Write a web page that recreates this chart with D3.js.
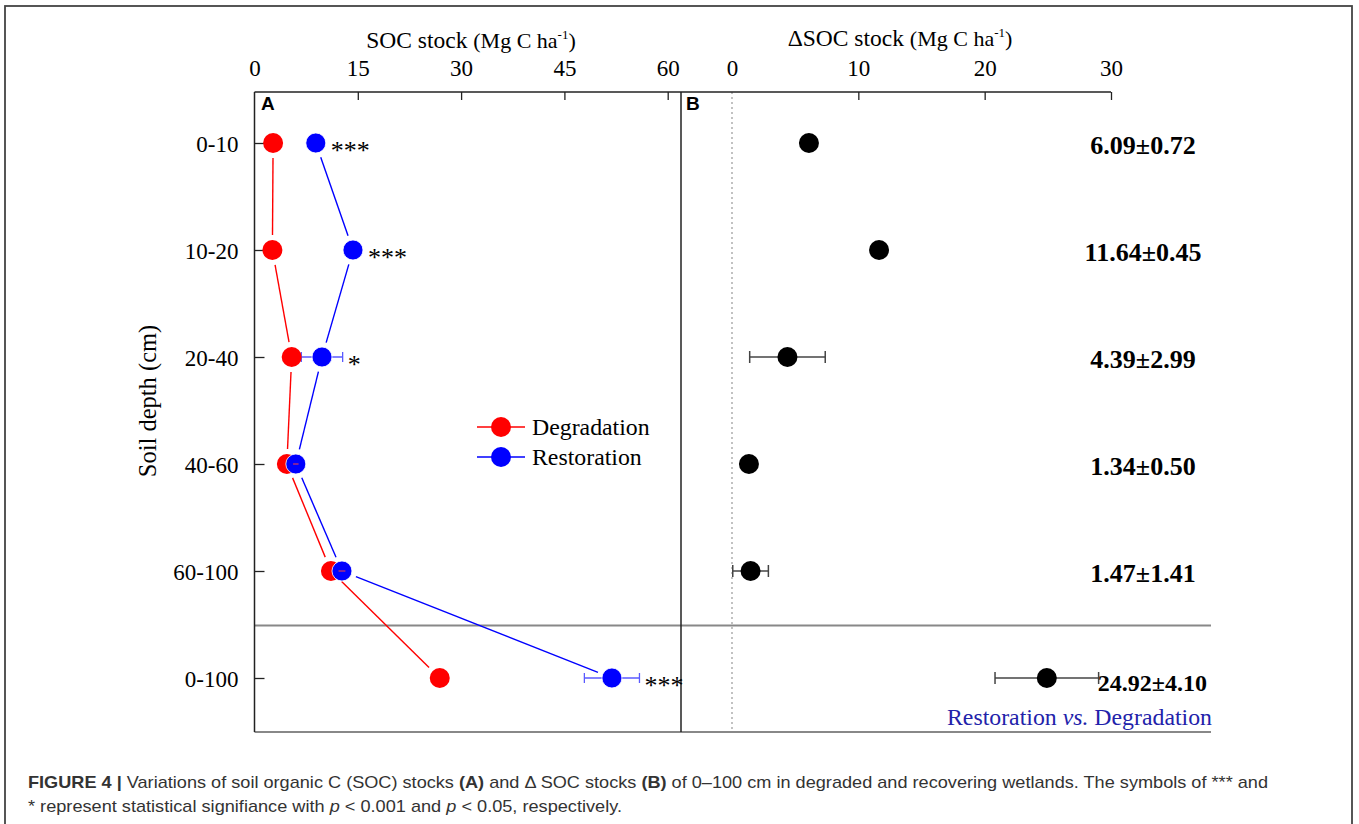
<!DOCTYPE html>
<html><head><meta charset="utf-8">
<script src="https://cdn.jsdelivr.net/npm/d3@7/dist/d3.min.js"></script>
<style>body{margin:0;background:#fff}svg{display:block}</style>
</head><body>
<svg id="c" width="1359" height="824"></svg>
<script>
const depths = ["0-10","10-20","20-40","40-60","60-100","0-100"];
const degradation = [2.7, 2.6, 5.4, 4.7, 11.1, 26.9];
const degradationErr = [0.2, 0.2, 0.4, 0.4, 0.5, 0.3];
const restoration = [8.9, 14.3, 9.8, 6.0, 12.7, 51.9];
const restorationErr = [0.3, 0.3, 3.0, 0.4, 0.5, 4.0];
const significance = ["***","***","*","","","***"];
const deltaSOC = [6.09, 11.64, 4.39, 1.34, 1.47, 24.92];
const deltaErr = [0.72, 0.45, 2.99, 0.50, 1.41, 4.10];
const ticksA = [0,15,30,45,60];
const ticksB = [0,10,20,30];

const svg = d3.select("#c");
const serif = "'Liberation Serif','Times New Roman',serif";
const sans = "'Liberation Sans',Arial,sans-serif";

// geometry
const topY = 92, bottomY = 732, leftA = 254.5, divX = 681, rightB = 1211;
const xA = d3.scaleLinear().domain([0,60]).range([254.5, 667.7]);
const xB = d3.scaleLinear().domain([0,30]).range([732, 1111]);
const y = d3.scalePoint().domain(depths).range([143, 678]);

// outer frame
svg.append("rect").attr("x",5).attr("y",6).attr("width",1347).attr("height",840)
  .attr("fill","none").attr("stroke","#444").attr("stroke-width",1.8);

// dotted zero line panel B
svg.append("line").attr("x1",xB(0)).attr("x2",xB(0)).attr("y1",topY).attr("y2",bottomY)
  .attr("stroke","#999").attr("stroke-width",1.2).attr("stroke-dasharray","2,3");

// separators
const sepY = (y("60-100")+y("0-100"))/2+1;
svg.append("line").attr("x1",leftA).attr("x2",rightB).attr("y1",sepY).attr("y2",sepY)
  .attr("stroke","#888").attr("stroke-width",2);
svg.append("line").attr("x1",leftA).attr("x2",rightB).attr("y1",bottomY).attr("y2",bottomY)
  .attr("stroke","#888").attr("stroke-width",2);
svg.append("line").attr("x1",leftA).attr("x2",leftA).attr("y1",topY).attr("y2",bottomY)
  .attr("stroke","#222").attr("stroke-width",1.5);
svg.append("line").attr("x1",divX).attr("x2",divX).attr("y1",topY).attr("y2",bottomY)
  .attr("stroke","#222").attr("stroke-width",1.5);
svg.append("line").attr("x1",leftA).attr("x2",xB(30)).attr("y1",topY).attr("y2",topY)
  .attr("stroke","#222").attr("stroke-width",1.5);

// axes
function styleAxis(g){
  g.select(".domain").remove();
  g.selectAll(".tick line").attr("stroke","#222").attr("stroke-width",1.3);
  g.selectAll(".tick text").attr("font-family",serif).attr("font-size",23).attr("fill","#000");
}
svg.append("g").attr("transform",`translate(0,${topY})`)
  .call(d3.axisTop(xA).tickValues(ticksA).tickSize(-8).tickPadding(16).tickFormat(d3.format("d")))
  .call(styleAxis)
  .call(g=>g.selectAll(".tick line").filter(d=>d===0).remove());
svg.append("g").attr("transform",`translate(0,${topY})`)
  .call(d3.axisTop(xB).tickValues(ticksB).tickSize(-8).tickPadding(16).tickFormat(d3.format("d")))
  .call(styleAxis)
  .call(g=>g.selectAll(".tick line").filter(d=>d===0).remove());
svg.append("g").attr("transform",`translate(${leftA},0)`)
  .call(d3.axisLeft(y).tickSize(-10).tickPadding(16))
  .call(styleAxis)
  .call(g=>g.selectAll(".tick text").attr("dy","0.35em"));

// axis titles
function title(x, yy, pre){
  const t = svg.append("text").attr("x",x).attr("y",yy).attr("text-anchor","middle")
    .attr("font-family",serif).attr("fill","#000");
  t.append("tspan").attr("font-size",23.5).text(pre+"SOC stock ");
  t.append("tspan").attr("font-size",22).text("(Mg C ha");
  t.append("tspan").attr("font-size",13).attr("dy",-9).text("-1");
  t.append("tspan").attr("font-size",22).attr("dy",9).text(")");
}
title(471, 48, "");
title(900, 46, "\u0394");

svg.append("text").attr("transform","translate(156,401) rotate(-90)").attr("text-anchor","middle")
  .attr("font-family",serif).attr("font-size",24.5).attr("fill","#000").text("Soil depth (cm)");

// panel labels
svg.append("text").attr("x",261).attr("y",110).attr("font-family",sans).attr("font-weight","bold")
  .attr("font-size",19).text("A");
svg.append("text").attr("x",686).attr("y",110).attr("font-family",sans).attr("font-weight","bold")
  .attr("font-size",19).text("B");

// series lines with gaps near markers
function drawSeries(vals, errs, color, errColor){
  const pts = vals.map((v,i)=>[xA(v), y(depths[i])]);
  const gap = 15;
  const g = svg.append("g");
  for(let i=0;i<pts.length-1;i++){
    const [x1,y1]=pts[i],[x2,y2]=pts[i+1];
    const L=Math.hypot(x2-x1,y2-y1); if(L<2*gap) continue;
    const ux=(x2-x1)/L, uy=(y2-y1)/L;
    g.append("line").attr("x1",x1+ux*gap).attr("y1",y1+uy*gap).attr("x2",x2-ux*gap).attr("y2",y2-uy*gap)
      .attr("stroke",color).attr("stroke-width",1.4);
  }
  vals.forEach((v,i)=>{
    const yy=y(depths[i]), a=xA(v-errs[i]), b=xA(v+errs[i]);
    g.append("line").attr("x1",a).attr("x2",b).attr("y1",yy).attr("y2",yy).attr("stroke",errColor).attr("stroke-width",1.3);
    [a,b].forEach(xx=>g.append("line").attr("x1",xx).attr("x2",xx).attr("y1",yy-5).attr("y2",yy+5).attr("stroke",errColor).attr("stroke-width",1.3));
  });
  return g;
}
drawSeries(degradation, degradationErr, "#ff0000", "#ff4040");
drawSeries(restoration, restorationErr, "#0000ff", "#5a5aff");
// markers
svg.append("g").selectAll("circle").data(degradation).join("circle")
  .attr("cx",d=>xA(d)).attr("cy",(d,i)=>y(depths[i])).attr("r",10).attr("fill","#ff0000");
svg.append("g").selectAll("circle").data(restoration).join("circle")
  .attr("cx",d=>xA(d)).attr("cy",(d,i)=>y(depths[i])).attr("r",10).attr("fill","#0000ff")
  .attr("stroke","#fff").attr("stroke-width",0.8);
restoration.forEach((v,i)=>{
  const yy=y(depths[i]);
  if(i===3 || i===4) svg.append("line").attr("x1",xA(v-restorationErr[i])).attr("x2",xA(v+restorationErr[i])).attr("y1",yy).attr("y2",yy).attr("stroke","#ff4040").attr("stroke-width",1);
});

// significance stars
significance.forEach((s,i)=>{
  if(!s) return;
  const x0 = Math.max(xA(restoration[i])+15, xA(restoration[i]+restorationErr[i])+5);
  svg.append("text").attr("x",x0).attr("y",y(depths[i])+16).attr("font-family",serif)
    .attr("font-size",26).attr("fill","#000").text(s);
});

// legend
const legend = [["Degradation","#ff0000"],["Restoration","#0000ff"]];
legend.forEach(([name,col],i)=>{
  const ly = 427 + i*30;
  svg.append("line").attr("x1",477).attr("x2",525).attr("y1",ly).attr("y2",ly).attr("stroke",col).attr("stroke-width",1.4);
  svg.append("circle").attr("cx",501).attr("cy",ly).attr("r",10).attr("fill",col);
  svg.append("text").attr("x",532).attr("y",ly+8).attr("font-family",serif).attr("font-size",23.8).attr("fill","#000").text(name);
});

// panel B
const gD = svg.append("g");
deltaSOC.forEach((v,i)=>{
  const yy=y(depths[i]), a=xB(v-deltaErr[i]), b=xB(v+deltaErr[i]);
  if(deltaErr[i]>1){
    gD.append("line").attr("x1",a).attr("x2",b).attr("y1",yy).attr("y2",yy).attr("stroke","#444").attr("stroke-width",1.5);
    [a,b].forEach(xx=>gD.append("line").attr("x1",xx).attr("x2",xx).attr("y1",yy-6).attr("y2",yy+6).attr("stroke","#444").attr("stroke-width",1.5));
  }
  gD.append("circle").attr("cx",xB(v)).attr("cy",yy).attr("r",10).attr("fill","#000");
  const last = i===deltaSOC.length-1;
  gD.append("text").attr("x", last ? 1207 : 1143).attr("y",yy+(last?13:11))
    .attr("text-anchor", last ? "end" : "middle")
    .attr("font-family",serif).attr("font-weight","bold").attr("font-size",last?24:26).attr("fill","#000")
    .text(d3.format(".2f")(v)+"\u00b1"+d3.format(".2f")(deltaErr[i]));
});
const rv = svg.append("text").attr("x",1212).attr("y",725).attr("text-anchor","end")
  .attr("font-family",serif).attr("font-size",23.8).attr("fill","#2222aa");
rv.append("tspan").text("Restoration ");
rv.append("tspan").attr("font-style","italic").text("vs.");
rv.append("tspan").text(" Degradation");

// caption
const capFont = "'Liberation Sans Narrow','Liberation Sans',Arial,sans-serif";
const c1 = svg.append("text").attr("x",28).attr("y",788).attr("font-family",capFont).attr("font-size",17)
  .attr("fill","#333").attr("textLength",1240).attr("lengthAdjust","spacingAndGlyphs");
c1.append("tspan").attr("font-weight","bold").text("FIGURE 4 | ");
c1.append("tspan").text("Variations of soil organic C (SOC) stocks ");
c1.append("tspan").attr("font-weight","bold").text("(A)");
c1.append("tspan").text(" and \u0394 SOC stocks ");
c1.append("tspan").attr("font-weight","bold").text("(B)");
c1.append("tspan").text(" of 0\u2013100 cm in degraded and recovering wetlands. The symbols of *** and");
const c2 = svg.append("text").attr("x",28).attr("y",812).attr("font-family",capFont).attr("font-size",17)
  .attr("fill","#333").attr("textLength",594).attr("lengthAdjust","spacingAndGlyphs");
c2.append("tspan").text("* represent statistical signifiance with ");
c2.append("tspan").attr("font-style","italic").text("p");
c2.append("tspan").text(" < 0.001 and ");
c2.append("tspan").attr("font-style","italic").text("p");
c2.append("tspan").text(" < 0.05, respectively.");
</script>
</body></html>
